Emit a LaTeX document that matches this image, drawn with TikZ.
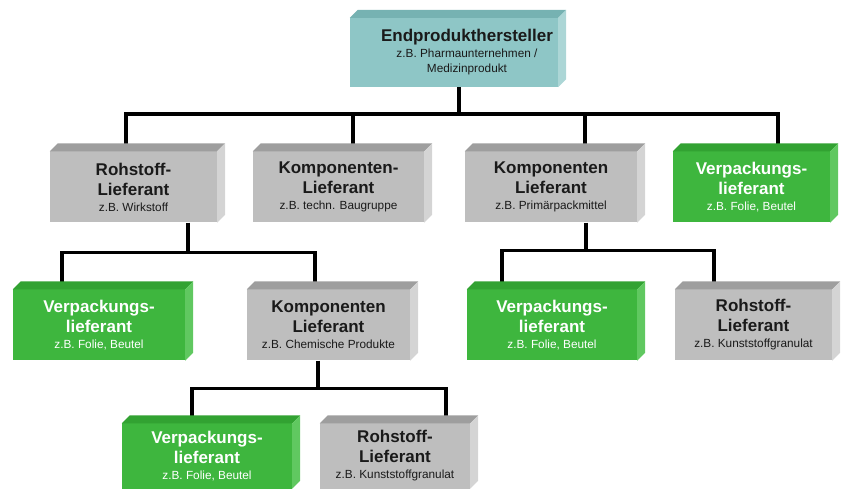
\documentclass[tikz,border=0pt]{standalone}
\usepackage{fontspec}
\setmainfont{Liberation Sans}
\usetikzlibrary{backgrounds}
\definecolor{gfront}{RGB}{190,190,190}
\definecolor{gtop}{RGB}{158,158,158}
\definecolor{gside}{RGB}{212,212,212}
\definecolor{nfront}{RGB}{62,182,62}
\definecolor{ntop}{RGB}{50,162,50}
\definecolor{nside}{RGB}{96,200,96}
\definecolor{tfront}{RGB}{142,198,198}
\definecolor{ttop}{RGB}{118,178,178}
\definecolor{tside}{RGB}{172,214,214}
\definecolor{dtext}{RGB}{26,26,26}
\newcommand\ttlf{\fontsize{17}{20}\selectfont\bfseries}
\newcommand\smlf{\fontsize{11.8}{16}\selectfont\mdseries}
\newcommand\bevel[3]{%
  \fill[#2] (#1.north west) -- ++(8,-8) -- ([shift={(8,-8)}]#1.north east) -- (#1.north east) -- cycle;
  \fill[#3] (#1.north east) -- ++(8,-8) -- ([shift={(8,-8)}]#1.south east) -- (#1.south east) -- cycle;
}
\tikzset{
  face/.style={rectangle, inner sep=0pt, align=center, font=\ttlf},
  greybox/.style={face, fill=gfront, text=dtext},
  greenbox/.style={face, fill=nfront, text=white},
  tealbox/.style={face, fill=tfront, text=dtext},
  conn/.style={line width=3.6pt, black, line join=miter}
}
\begin{document}
\begin{tikzpicture}[x=1pt, y=-1pt]
\useasboundingbox (0,0) rectangle (844,494);
% top
\node[tealbox, minimum width=208pt, minimum height=69pt] (top) at (454,52.5) {};
\node[face, text=dtext] (toptext) at (467,52.5)
  {Endprodukthersteller\\[-4pt]\smlf z.B. Pharmaunternehmen /\\[-5pt]\smlf Medizinprodukt};
% row 1
\node[greybox, minimum width=167pt, minimum height=71pt] (r1a) at (133.5,187)
  {Rohstoff-\\Lieferant\\[-4pt]\smlf z.B. Wirkstoff};
\node[greybox, minimum width=171pt, minimum height=71pt] (r1b) at (338.5,187)
  {Komponenten-\\Lieferant\\[-4pt]\smlf z.B. techn. Baugruppe};
\node[greybox, minimum width=172pt, minimum height=71pt] (r1c) at (551,187)
  {Komponenten\\Lieferant\\[-4pt]\smlf z.B. Primärpackmittel};
\node[greenbox, minimum width=157pt, minimum height=71pt] (r1d) at (751.5,187)
  {Verpackungs-\\lieferant\\[-4pt]\smlf z.B. Folie, Beutel};
% row 2
\node[greenbox, minimum width=172pt, minimum height=71pt] (r2a) at (99,325)
  {Verpackungs-\\lieferant\\[-4pt]\smlf z.B. Folie, Beutel};
\node[greybox, minimum width=163pt, minimum height=71pt] (r2b) at (328.5,325)
  {Komponenten\\Lieferant\\[-4pt]\smlf z.B. Chemische Produkte};
\node[greenbox, minimum width=170pt, minimum height=71pt] (r2c) at (552,325)
  {Verpackungs-\\lieferant\\[-4pt]\smlf z.B. Folie, Beutel};
\node[greybox, minimum width=157pt, minimum height=71pt] (r2d) at (753.5,325)
  {Rohstoff-\\Lieferant\\[-4pt]\smlf z.B. Kunststoffgranulat};
% row 3
\node[greenbox, minimum width=170pt, minimum height=65pt] (r3a) at (207,456)
  {Verpackungs-\\lieferant\\[-4pt]\smlf z.B. Folie, Beutel};
\node[greybox, minimum width=150pt, minimum height=65pt] (r3b) at (395,456)
  {Rohstoff-\\Lieferant\\[-4pt]\smlf z.B. Kunststoffgranulat};
% bevels
\bevel{top}{ttop}{tside}
\bevel{r1a}{gtop}{gside}
\bevel{r1b}{gtop}{gside}
\bevel{r1c}{gtop}{gside}
\bevel{r1d}{ntop}{nside}
\bevel{r2a}{ntop}{nside}
\bevel{r2b}{gtop}{gside}
\bevel{r2c}{ntop}{nside}
\bevel{r2d}{gtop}{gside}
\bevel{r3a}{ntop}{nside}
\bevel{r3b}{gtop}{gside}
% connectors
\begin{pgfonlayer}{background}
\draw[conn] ([xshift=5]top.south) -- ++(0,27) coordinate (j0);
\draw[conn] ([xshift=-7.5]r1a.north) |- (j0) -| ([xshift=26.5]r1d.north);
\draw[conn] ([xshift=14.5]r1b.north) -- ([xshift=14.5]r1b.north |- j0);
\draw[conn] ([xshift=34]r1c.north) -- ([xshift=34]r1c.north |- j0);
\draw[conn] ([xshift=54.5]r1a.south) -- ++(0,30) coordinate (j1);
\draw[conn] ([xshift=-37]r2a.north) |- (j1) -| ([xshift=-13.5]r2b.north);
\draw[conn] ([xshift=35]r1c.south) -- ++(0,28) coordinate (j2);
\draw[conn] ([xshift=-50]r2c.north) |- (j2) -| ([xshift=-39.5]r2d.north);
\draw[conn] ([xshift=-10.5]r2b.south) -- ++(0,28) coordinate (j3);
\draw[conn] ([xshift=-15]r3a.north) |- (j3) -| ([xshift=51]r3b.north);
\end{pgfonlayer}
\end{tikzpicture}
\end{document}
